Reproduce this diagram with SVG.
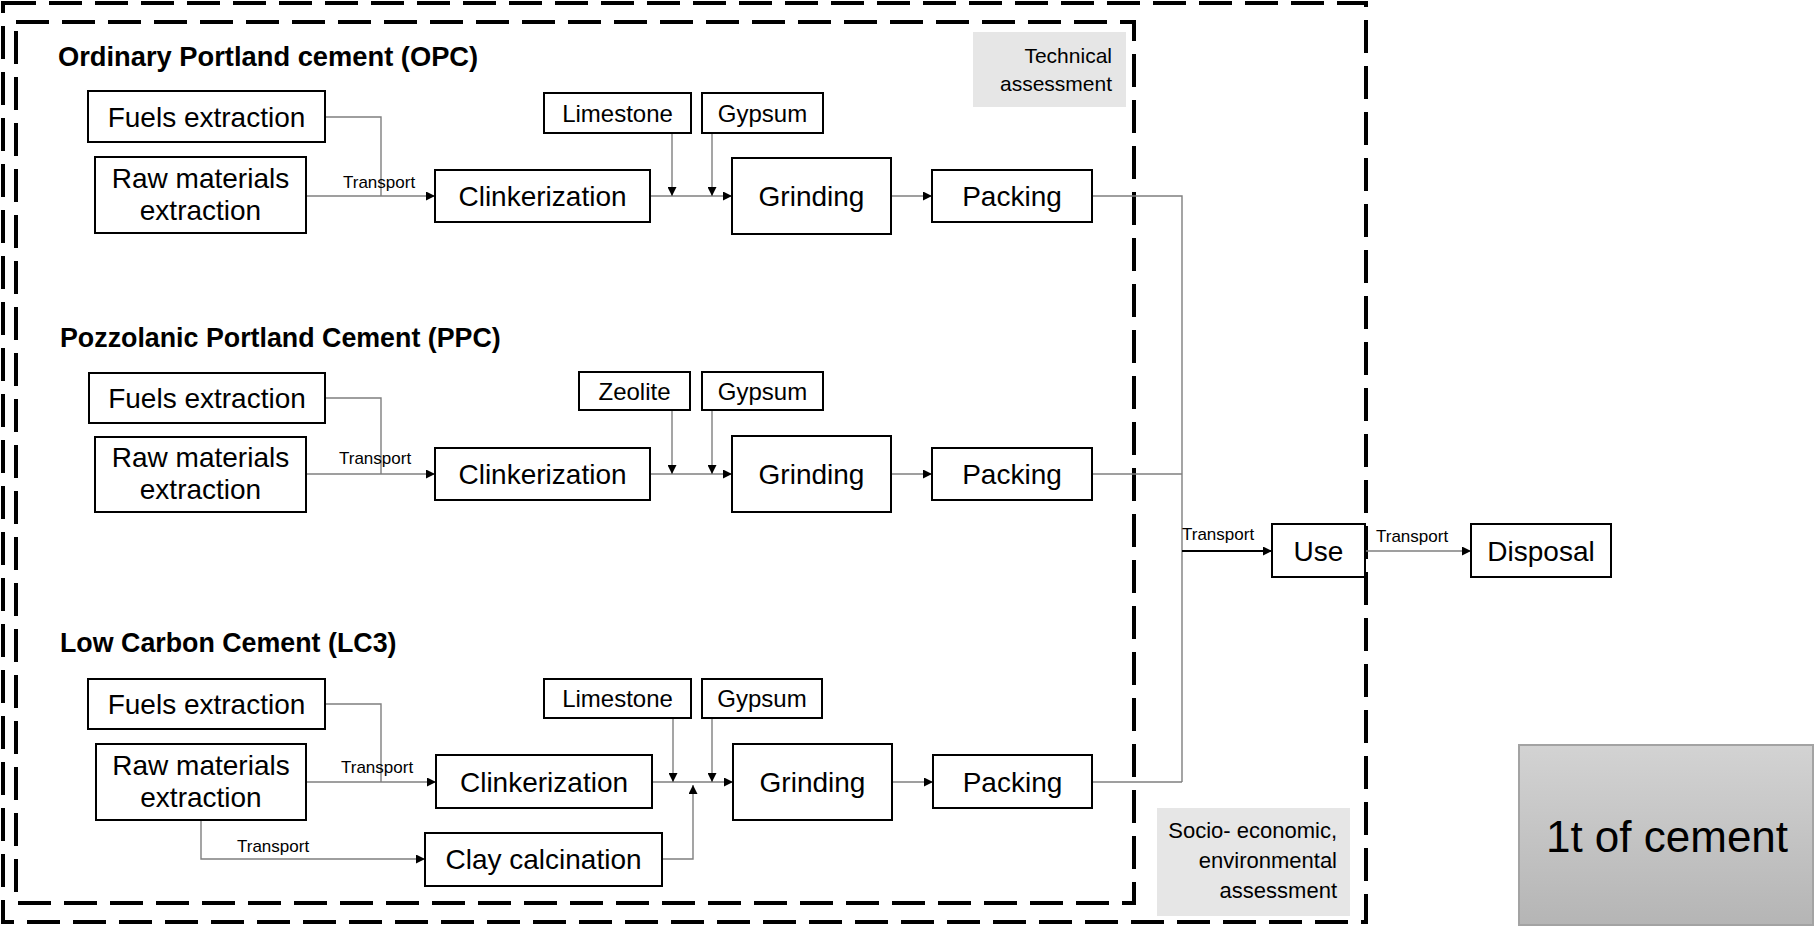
<svg xmlns="http://www.w3.org/2000/svg" width="1814" height="926" viewBox="0 0 1814 926">
<style>
  text { font-family: "Liberation Sans", Arial, sans-serif; fill: #000; }
  .box { fill: #fff; stroke: #000; stroke-width: 2; }
  .lbl { font-size: 28px; text-anchor: middle; }
  .sm { font-size: 24px; text-anchor: middle; }
  .tr { font-size: 17px; }
  .title { font-size: 26.8px; font-weight: bold; }
  .title.big { font-size: 27.3px; }
  .note { font-size: 21px; text-anchor: end; }
  .note2 { font-size: 22px; text-anchor: end; }
  .dash { fill: none; stroke: #000; stroke-width: 4; stroke-dasharray: 33 13; }
  .gray { fill: #e6e6e6; }
  .ln { fill: none; stroke: #7f7f7f; stroke-width: 1.4; }
  .la { fill: none; stroke: #7f7f7f; stroke-width: 1.4; marker-end: url(#arr); }
  .lk { fill: none; stroke: #000; stroke-width: 2; marker-end: url(#arr); }
</style>
<defs>
  <marker id="arr" markerUnits="userSpaceOnUse" markerWidth="9" markerHeight="9" refX="9" refY="4.5" orient="auto">
    <path d="M0,0 L9,4.5 L0,9 z" fill="#000"/>
  </marker>
  <linearGradient id="gcem" x1="0" y1="0" x2="0" y2="1">
    <stop offset="0" stop-color="#d3d3d3"/>
    <stop offset="1" stop-color="#b5b5b5"/>
  </linearGradient>
</defs>
<rect width="1814" height="926" fill="#fff"/>

<g id="boundaries">
  <rect class="dash" x="3" y="3" width="1363" height="919"/>
  <rect class="dash" x="16" y="22" width="1118" height="881"/>
</g>

<g id="technical-assessment">
  <rect class="gray" x="973" y="32" width="153" height="75"/>
  <text class="note" x="1112" y="63">Technical</text>
  <text class="note" x="1112" y="91">assessment</text>
</g>
<g id="socio-assessment">
  <rect class="gray" x="1157" y="808" width="193" height="108"/>
  <text class="note2" x="1337" y="838">Socio- economic,</text>
  <text class="note2" x="1337" y="868">environmental</text>
  <text class="note2" x="1337" y="898">assessment</text>
</g>
<g id="functional-unit">
  <rect x="1519" y="745" width="294" height="180" fill="url(#gcem)" stroke="#a3a3a3" stroke-width="2"/>
  <text x="1667" y="852" font-size="44" text-anchor="middle">1t of cement</text>
</g>

<g id="titles">
  <text class="title big" x="58" y="66">Ordinary Portland cement (OPC)</text>
  <text class="title" x="60" y="347">Pozzolanic Portland Cement (PPC)</text>
  <text class="title" x="60" y="652">Low Carbon Cement (LC3)</text>
</g>

<g id="connectors">
  <!-- OPC -->
  <polyline class="ln" points="325,117 381,117 381,196"/>
  <line class="la" x1="306" y1="196" x2="435" y2="196"/>
  <line class="la" x1="650" y1="196" x2="732" y2="196"/>
  <line class="la" x1="672" y1="133" x2="672" y2="196"/>
  <line class="la" x1="712" y1="133" x2="712" y2="196"/>
  <line class="la" x1="891" y1="196" x2="932" y2="196"/>
  <polyline class="ln" points="1092,196 1182,196 1182,782"/>
  <!-- PPC -->
  <polyline class="ln" points="325,398 381,398 381,474"/>
  <line class="la" x1="306" y1="474" x2="435" y2="474"/>
  <line class="la" x1="650" y1="474" x2="732" y2="474"/>
  <line class="la" x1="672" y1="410" x2="672" y2="474"/>
  <line class="la" x1="712" y1="410" x2="712" y2="474"/>
  <line class="la" x1="891" y1="474" x2="932" y2="474"/>
  <line class="ln" x1="1092" y1="474" x2="1182" y2="474"/>
  <!-- LC3 -->
  <polyline class="ln" points="325,704 381,704 381,782"/>
  <line class="la" x1="306" y1="782" x2="436" y2="782"/>
  <line class="la" x1="652" y1="782" x2="733" y2="782"/>
  <line class="la" x1="673" y1="718" x2="673" y2="782"/>
  <line class="la" x1="712" y1="718" x2="712" y2="782"/>
  <polyline class="la" points="201,820 201,859 425,859"/>
  <polyline class="la" points="662,859 693,859 693,785"/>
  <line class="la" x1="892" y1="782" x2="933" y2="782"/>
  <line class="ln" x1="1092" y1="782" x2="1182" y2="782"/>
  <!-- downstream -->
  <line class="lk" x1="1182" y1="551" x2="1272" y2="551"/>
  <line class="la" x1="1365" y1="551" x2="1471" y2="551"/>
  <text class="tr" x="343" y="188">Transport</text>
  <text class="tr" x="339" y="464">Transport</text>
  <text class="tr" x="341" y="773">Transport</text>
  <text class="tr" x="237" y="852">Transport</text>
  <text class="tr" x="1182" y="540">Transport</text>
  <text class="tr" x="1376" y="542">Transport</text>
</g>

<!-- OPC nodes -->
<g id="opc-fuels"><rect class="box" x="88" y="91" width="237" height="51"/><text class="lbl" x="206.5" y="127">Fuels extraction</text></g>
<g id="opc-raw"><rect class="box" x="95" y="157" width="211" height="76"/><text class="lbl" x="200.5" y="188">Raw materials</text><text class="lbl" x="200.5" y="220">extraction</text></g>
<g id="opc-clinker"><rect class="box" x="435" y="170" width="215" height="52"/><text class="lbl" x="542.5" y="206">Clinkerization</text></g>
<g id="opc-limestone"><rect class="box" x="544" y="93" width="147" height="40"/><text class="sm" x="617.5" y="122">Limestone</text></g>
<g id="opc-gypsum"><rect class="box" x="702" y="93" width="121" height="40"/><text class="sm" x="762.5" y="122">Gypsum</text></g>
<g id="opc-grinding"><rect class="box" x="732" y="158" width="159" height="76"/><text class="lbl" x="811.5" y="206">Grinding</text></g>
<g id="opc-packing"><rect class="box" x="932" y="170" width="160" height="52"/><text class="lbl" x="1012" y="206">Packing</text></g>

<!-- PPC nodes -->
<g id="ppc-fuels"><rect class="box" x="89" y="373" width="236" height="50"/><text class="lbl" x="207" y="408">Fuels extraction</text></g>
<g id="ppc-raw"><rect class="box" x="95" y="437" width="211" height="75"/><text class="lbl" x="200.5" y="467">Raw materials</text><text class="lbl" x="200.5" y="499">extraction</text></g>
<g id="ppc-clinker"><rect class="box" x="435" y="448" width="215" height="52"/><text class="lbl" x="542.5" y="484">Clinkerization</text></g>
<g id="ppc-zeolite"><rect class="box" x="579" y="372" width="111" height="38"/><text class="sm" x="634.5" y="400">Zeolite</text></g>
<g id="ppc-gypsum"><rect class="box" x="702" y="372" width="121" height="38"/><text class="sm" x="762.5" y="400">Gypsum</text></g>
<g id="ppc-grinding"><rect class="box" x="732" y="436" width="159" height="76"/><text class="lbl" x="811.5" y="484">Grinding</text></g>
<g id="ppc-packing"><rect class="box" x="932" y="448" width="160" height="52"/><text class="lbl" x="1012" y="484">Packing</text></g>

<!-- LC3 nodes -->
<g id="lc3-fuels"><rect class="box" x="88" y="679" width="237" height="50"/><text class="lbl" x="206.5" y="714">Fuels extraction</text></g>
<g id="lc3-raw"><rect class="box" x="96" y="744" width="210" height="76"/><text class="lbl" x="201" y="775">Raw materials</text><text class="lbl" x="201" y="807">extraction</text></g>
<g id="lc3-clinker"><rect class="box" x="436" y="755" width="216" height="53"/><text class="lbl" x="544" y="792">Clinkerization</text></g>
<g id="lc3-limestone"><rect class="box" x="544" y="679" width="147" height="39"/><text class="sm" x="617.5" y="707">Limestone</text></g>
<g id="lc3-gypsum"><rect class="box" x="702" y="679" width="120" height="39"/><text class="sm" x="762" y="707">Gypsum</text></g>
<g id="lc3-clay"><rect class="box" x="425" y="833" width="237" height="53"/><text class="lbl" x="543.5" y="869">Clay calcination</text></g>
<g id="lc3-grinding"><rect class="box" x="733" y="744" width="159" height="76"/><text class="lbl" x="812.5" y="792">Grinding</text></g>
<g id="lc3-packing"><rect class="box" x="933" y="755" width="159" height="53"/><text class="lbl" x="1012.5" y="792">Packing</text></g>

<!-- downstream nodes -->
<g id="use"><rect class="box" x="1272" y="524" width="93" height="53"/><text class="lbl" x="1318.5" y="561">Use</text></g>
<g id="disposal"><rect class="box" x="1471" y="524" width="140" height="53"/><text class="lbl" x="1541" y="561">Disposal</text></g>
</svg>
